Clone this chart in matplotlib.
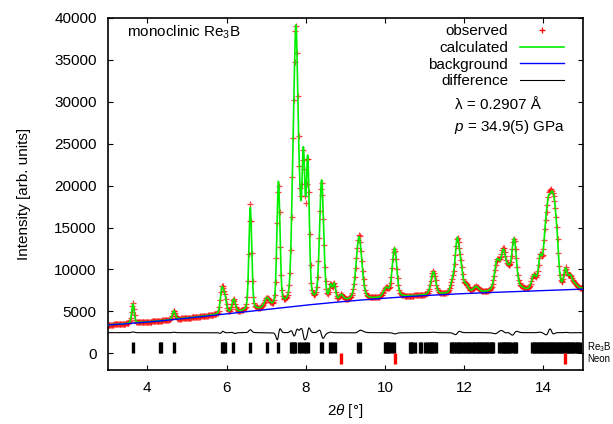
import numpy as np
import matplotlib
matplotlib.use("Agg")
import matplotlib.pyplot as plt

plt.rcParams['font.family'] = ['Liberation Sans', 'DejaVu Sans']
plt.rcParams['mathtext.fontset'] = 'custom'
plt.rcParams['mathtext.rm'] = 'Liberation Sans'
plt.rcParams['mathtext.it'] = 'Liberation Sans:italic'
plt.rcParams['mathtext.bf'] = 'Liberation Sans:bold'

# ---------------- data ----------------
# background nodes (2theta, intensity)
bg_x = [3, 4, 5, 6, 7, 8, 9, 10, 11, 12, 13, 14, 15]
bg_y = [3400, 3700, 4150, 4650, 5250, 5850, 6250, 6450, 6800, 7100, 7350, 7550, 7600]

# readings of the calculated profile (2theta, intensity)
read_x = [3.64, 4.67, 5.74, 5.82, 5.955, 6.08, 6.18, 6.33,
          6.56, 6.604, 6.645, 6.75, 6.835, 7.00, 7.12, 7.21,
          7.27, 7.315, 7.36, 7.40, 7.46, 7.50, 7.585, 7.65, 7.69, 7.735, 7.76,
          7.786, 7.81, 7.836, 7.854, 7.945, 7.995, 8.055, 8.09, 8.13, 8.19, 8.24,
          8.40, 8.47, 8.51, 8.55, 8.63, 8.69, 8.80, 8.91, 9.01,
          9.26, 9.346, 9.43, 9.68,
          9.93, 10.18, 10.25, 10.31, 10.56,
          11.11, 11.23, 11.36, 11.48,
          11.65, 11.74, 11.82, 11.90, 11.96, 12.03, 12.11, 12.30, 12.45,
          12.79, 12.89, 12.99, 13.14, 13.26, 13.33, 13.37, 13.45, 13.58,
          13.83, 13.92, 13.98, 14.04, 14.13, 14.21, 14.28, 14.34, 14.40, 14.46,
          14.56, 14.67, 14.80, 14.92]
read_y = [5850, 5080, 4960, 5570, 7170, 5370, 6450, 5050,
          11570, 17190, 11180, 5770, 5770, 6170, 6770, 9170,
          12780, 20400, 13180, 8380, 6770, 7170, 10370, 16380, 29800, 37600, 38800,
          34200, 27000, 22400, 20700, 23800, 20400, 23000, 15600, 9170, 7780, 7170,
          20470, 12000, 9170, 7970, 8170, 7970, 6970, 6970, 6370,
          10370, 14060, 9580, 6370,
          7170, 9970, 13060, 8770, 6570,
          7170, 9780, 7370, 6970,
          7970, 9970, 13780, 11570, 9580, 8380, 7780, 7970, 7370,
          9970, 11570, 12290, 10580, 13490, 11180, 8770, 7970, 7770,
          9170, 11980, 11380, 15180, 18790, 19320, 18390, 14780, 10780, 9370,
          10100, 9370, 8380, 7650]

# peaks used for the profile: position, FWHM, observed/calculated ratio, observed shift
pk_pos = [3.635, 4.67, 5.88, 5.955, 6.18, 6.60, 7.02, 7.31, 7.675, 7.755, 7.845,
          7.94, 8.05, 8.40, 8.63, 8.72, 8.90, 9.345, 10.03, 10.20, 10.255,
          10.66, 10.90, 11.22, 11.70, 11.825, 11.92, 12.05, 12.30, 12.83,
          12.99, 13.12, 13.26, 13.45, 13.76, 13.92, 14.05, 14.13, 14.21, 14.28,
          14.35, 14.56, 14.68, 14.80]
pk_fwhm = [0.075, 0.085, 0.09, 0.09, 0.10, 0.085, 0.15, 0.09, 0.10, 0.12, 0.09,
           0.09, 0.09, 0.12, 0.08, 0.08, 0.11, 0.17, 0.16, 0.11, 0.12,
           0.13, 0.13, 0.14, 0.11, 0.13, 0.11, 0.13, 0.16, 0.15,
           0.15, 0.13, 0.14, 0.13, 0.13, 0.11, 0.12, 0.12, 0.12, 0.12,
           0.10, 0.10, 0.12, 0.14]
pk_ratio = [1.04, 1.05, 1.03, 0.98, 0.97, 1.03, 1.0, 0.98, 1.01, 1.01, 0.99,
            0.98, 1.01, 0.98, 1.05, 1.0, 1.0, 1.03, 1.0, 1.0, 0.97,
            1.0, 1.0, 1.02, 1.0, 0.99, 1.0, 1.0, 1.03, 0.98,
            1.03, 1.05, 0.98, 1.02, 1.0, 1.02, 0.98, 1.01, 0.99, 1.01,
            1.0, 1.02, 0.99, 1.0]
pk_shift = [0.0, 0.0, 0.003, 0.0, -0.003, 0.0, 0.0, 0.003, -0.002, 0.0012, 0.002,
            -0.002, 0.002, -0.003, 0.0, 0.0, 0.0, 0.002, 0.0, 0.0, 0.0,
            0.0, 0.0, 0.0, 0.0, 0.003, 0.0, 0.0, 0.0, 0.003,
            -0.003, 0.0, 0.004, 0.0, 0.0, 0.0, 0.0, 0.003, -0.003, 0.0,
            0.0, 0.0, 0.0, 0.0]
eta = 0.3

# reflection positions (tick marks)
re3b_ticks = [3.64, 4.31, 4.35, 4.67, 5.88, 5.92, 5.95, 6.17, 6.60, 7.02, 7.31,
              7.63, 7.66, 7.70, 7.74, 7.83, 7.87, 7.96, 8.00, 8.05, 8.38, 8.42,
              8.62, 8.66, 8.73, 9.33, 9.37, 9.99, 10.03, 10.07, 10.11, 10.18, 10.22,
              10.62, 10.66, 10.69, 10.77, 10.88, 10.92, 11.02, 11.05, 11.10, 11.15,
              11.20, 11.25, 11.28, 11.66, 11.70, 11.74, 11.79, 11.84, 11.88, 11.93,
              11.98, 12.03, 12.08, 12.12, 12.16, 12.22, 12.26, 12.30, 12.34, 12.38,
              12.42, 12.45, 12.50, 12.54, 12.57, 12.63, 12.67, 12.70, 12.74, 12.89,
              12.93, 12.97, 13.01, 13.05, 13.09, 13.13, 13.17, 13.24, 13.28, 13.31,
              13.72, 13.76, 13.80, 13.84, 13.88, 13.92, 13.96, 14.00, 14.04, 14.08,
              14.12, 14.16, 14.20, 14.24, 14.28, 14.32, 14.36, 14.40, 14.44, 14.48,
              14.52, 14.56, 14.60, 14.64, 14.68, 14.72, 14.76, 14.80, 14.84, 14.88,
              14.92]
neon_ticks = [8.88, 10.26, 14.55]

diff_offset = 2450

# ---------------- profile model ----------------
def pv(x, x0, w):
    d = (np.asarray(x)[:, None] - np.asarray(x0)[None, :]) / np.asarray(w)[None, :]
    lor = 1.0 / (1.0 + 4.0 * d ** 2)
    gau = np.exp(-4.0 * np.log(2) * d ** 2)
    return eta * lor + (1 - eta) * gau

bg_poly = np.polynomial.Polynomial.fit(bg_x, bg_y, 4)

def nnls(A, b, n_iter=6000):
    AtA = A.T @ A
    Atb = A.T @ b
    a = np.zeros(A.shape[1])
    for _ in range(n_iter):
        for j in range(len(a)):
            r = Atb[j] - AtA[j] @ a + AtA[j, j] * a[j]
            a[j] = max(0.0, r / AtA[j, j])
    return a

rx = np.array(read_x)
A = pv(rx, pk_pos, pk_fwhm)
amp = nnls(A, np.array(read_y) - bg_poly(rx))

x_fine = np.arange(3.0, 15.0001, 0.005)
x_obs = np.arange(3.0, 15.0001, 0.02)
calc_f = bg_poly(x_fine) + pv(x_fine, pk_pos, pk_fwhm) @ amp
calc_o = bg_poly(x_obs) + pv(x_obs, pk_pos, pk_fwhm) @ amp
obs_pos = np.array(pk_pos) + np.array(pk_shift)
obs = bg_poly(x_obs) + pv(x_obs, obs_pos, pk_fwhm) @ (amp * np.array(pk_ratio))
diff = obs - calc_o + diff_offset

# ---------------- plotting ----------------
fig = plt.figure(figsize=(6.13, 4.24), dpi=100)
ax = fig.add_axes([0.1758, 0.1274, 0.7752, 0.8302])

ax.plot(x_obs, obs, linestyle='none', marker='+', ms=4, mew=0.9,
        color='#ff0000', alpha=0.75, label='observed', zorder=2)
ax.plot(x_fine, calc_f, color='#00ee00', lw=1.2, label='calculated', zorder=3)
ax.plot(x_fine, bg_poly(x_fine), color='#0000ff', lw=1.0, label='background', zorder=3)
ax.plot(x_obs, diff, color='black', lw=0.8, label='difference', zorder=3)

ax.vlines(re3b_ticks, 0, 1300, color='black', lw=2.4, zorder=3)
ax.vlines(neon_ticks, -1300, 0, color='#ff0000', lw=2.4, zorder=3)

ax.set_xlim(3, 15)
ax.set_ylim(-2000, 40000)
ax.set_xticks([4, 6, 8, 10, 12, 14])
ax.set_yticks(np.arange(0, 40001, 5000))
ax.tick_params(direction='in', length=3.5, width=0.8, top=True, right=True,
               labelsize=11, pad=8)
for s in ax.spines.values():
    s.set_linewidth(1.2)

ax.set_xlabel(r'2$\theta$ [°]', fontsize=11, labelpad=5)
ax.set_ylabel('Intensity [arb. units]', fontsize=11, labelpad=17)

ax.text(0.040, 0.958, r'monoclinic Re$_3$B', transform=ax.transAxes,
        fontsize=11, va='center', ha='left')

leg = ax.legend(loc='upper right', bbox_to_anchor=(0.960, 0.982), frameon=False,
                markerfirst=False, fontsize=11, handlelength=2.9, handletextpad=0.75,
                labelspacing=0.17, borderpad=0, borderaxespad=0, numpoints=1)
for h in leg.legend_handles:
    h.set_alpha(1)

ax.text(0.822, 0.753, 'λ = 0.2907 Å', transform=ax.transAxes, fontsize=11,
        ha='center', va='center')
ax.text(0.846, 0.690, r'$p$ = 34.9(5) GPa', transform=ax.transAxes, fontsize=11,
        ha='center', va='center')

ax.text(1.008, 1300 / 2 + 80, r'Re$_3$B', transform=ax.get_yaxis_transform(),
        fontsize=7, ha='left', va='center')
ax.text(1.008, -700, 'Neon', transform=ax.get_yaxis_transform(),
        fontsize=7, ha='left', va='center')

fig.savefig('out.png', dpi=100)
